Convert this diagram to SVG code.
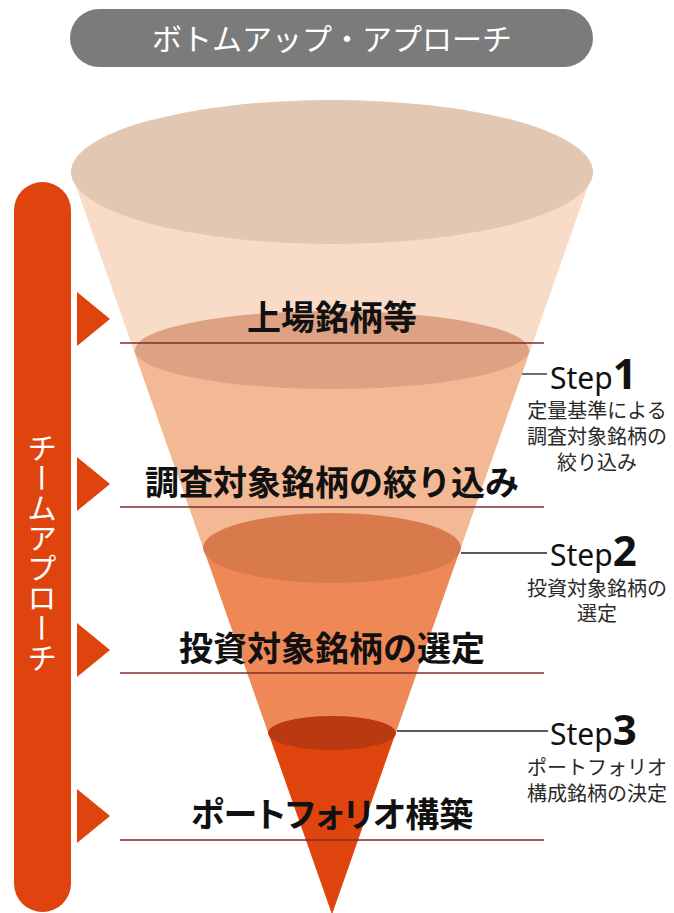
<svg xmlns="http://www.w3.org/2000/svg" width="674" height="913" viewBox="0 0 674 913">
<style>
.lbl{font-family:"Noto Sans CJK JP","Noto Sans",sans-serif;font-weight:bold;font-size:34px;fill:#111;text-anchor:middle}
.sub{font-family:"Noto Sans CJK JP","Noto Sans",sans-serif;font-size:20px;fill:#2a2a2a;text-anchor:middle}
.step{font-family:"Noto Sans","Open Sans",sans-serif;font-size:30px;fill:#111}
.num{font-size:42px;font-weight:bold}
.hl{stroke:#7f2d2d;stroke-width:1.6}
.sl{stroke:#222;stroke-width:1.3}
.tri{fill:#e0440e}
</style>
<rect width="674" height="913" fill="#ffffff"/>
<g id="title">
<rect x="70" y="9" width="523" height="58" rx="29" fill="#7b7b7b"/>
<text x="332" y="50" font-family="Noto Sans CJK JP, sans-serif" font-size="30" fill="#ffffff" text-anchor="middle">ボトムアップ・アプローチ</text>
</g>
<g id="funnel">
<polygon points="71,172 593,172 332,914" fill="#f8dcc8"/>
<ellipse cx="332" cy="172" rx="261" ry="72" fill="#e2c7b2"/>
<polygon points="133.7,350 530.3,350 332,914" fill="#f3b894"/>
<ellipse cx="332" cy="350" rx="197" ry="39" fill="#dca283"/>
<polygon points="203.4,548 460.6,548 332,914" fill="#ee8856"/>
<ellipse cx="332" cy="548" rx="129" ry="35" fill="#d97a4c"/>
<polygon points="268.6,733 395.4,733 332,914" fill="#e0440e"/>
<ellipse cx="332" cy="733" rx="64" ry="17" fill="#b93a10"/>
</g>
<g id="team-bar">
<rect x="14" y="182" width="57" height="730" rx="28.5" fill="#e0440e"/>
<text x="42" y="553" font-family="Noto Sans CJK JP, sans-serif" font-size="30" fill="#ffffff" text-anchor="middle" style="writing-mode:vertical-rl">チームアプローチ</text>
</g>
<g id="connectors">
<line class="hl" x1="120" y1="343" x2="544" y2="343"/>
<line class="hl" x1="120" y1="507" x2="544" y2="507"/>
<line class="hl" x1="120" y1="673" x2="544" y2="673"/>
<line class="hl" x1="120" y1="840" x2="544" y2="840"/>
<line class="sl" x1="522" y1="374" x2="547" y2="374"/>
<line class="sl" x1="461" y1="553" x2="547" y2="553"/>
<line class="sl" x1="397" y1="731" x2="548" y2="731"/>
<polygon class="tri" points="77,292 110,319 77,346"/>
<polygon class="tri" points="77,457 110,484 77,511"/>
<polygon class="tri" points="77,623 110,650 77,677"/>
<polygon class="tri" points="77,789 110,816 77,843"/>
</g>
<g id="stage1"><text class="lbl" x="332" y="330">上場銘柄等</text></g>
<g id="stage2"><text class="lbl" x="332" y="495">調査対象銘柄の絞り込み</text></g>
<g id="stage3"><text class="lbl" x="332" y="661">投資対象銘柄の選定</text></g>
<g id="stage4"><text class="lbl" x="332" y="827" style="font-feature-settings:'palt'">ポートフォリオ構築</text></g>
<g id="step1">
<text class="step" x="550" y="389">Step<tspan class="num">1</tspan></text>
<text class="sub" x="597" y="418">定量基準による</text>
<text class="sub" x="597" y="444">調査対象銘柄の</text>
<text class="sub" x="597" y="470">絞り込み</text>
</g>
<g id="step2">
<text class="step" x="550" y="566">Step<tspan class="num">2</tspan></text>
<text class="sub" x="597" y="596">投資対象銘柄の</text>
<text class="sub" x="597" y="621">選定</text>
</g>
<g id="step3">
<text class="step" x="550" y="745">Step<tspan class="num">3</tspan></text>
<text class="sub" x="597" y="775">ポートフォリオ</text>
<text class="sub" x="597" y="801">構成銘柄の決定</text>
</g>
</svg>
